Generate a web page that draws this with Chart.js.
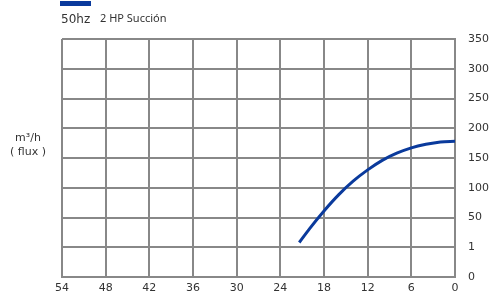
<!DOCTYPE html>
<html>
<head>
<meta charset="utf-8">
<script src="https://cdn.jsdelivr.net/npm/chart.js@4/dist/chart.umd.min.js"></script>
<style>
  html, body { margin: 0; padding: 0; background: #fff; }
  #wrap { width: 497px; height: 300px; position: relative; }
</style>
</head>
<body>
<div id="wrap"><canvas id="c" width="497" height="300"></canvas></div>
<script>
// Data
const seriesLabel = "50hz";
const chartTitle = "2 HP Succión";
const yTitleLines = ["m³/h", "( flux )"];
const headValues = [21.4, 20, 18, 16, 14, 12, 10, 8, 6, 4, 2, 0];
const flowValues = [8, 31, 61, 88, 111, 130, 146, 158, 167, 173, 177, 178];
const xTickValues = [54, 48, 42, 36, 30, 24, 18, 12, 6, 0];
const yTickLabels = ["0", "1", "50", "100", "150", "200", "250", "300", "350"];

const lineColor = "#0a3a9c";
const gridColor = "#888888";
const textColor = "#333333";

const points = headValues.map((h, i) => ({ x: h, y: flowValues[i] }));

const decor = {
  id: "decor",
  afterDraw(chart) {
    const ctx = chart.ctx;
    ctx.save();
    // legend swatch + label
    ctx.fillStyle = lineColor;
    ctx.fillRect(60, 1, 31, 5);
    ctx.fillStyle = textColor;
    ctx.textBaseline = "alphabetic";
    ctx.textAlign = "left";
    ctx.font = "12px 'DejaVu Sans'";
    ctx.fillText(seriesLabel, 61, 23);
    ctx.font = "11px 'Noto Sans'";
    ctx.fillText(chartTitle, 100, 22);
    // y title at left
    ctx.textAlign = "center";
    ctx.font = "11px 'DejaVu Sans'";
    ctx.fillText(yTitleLines[0], 28, 141);
    ctx.fillText(yTitleLines[1], 28, 155);
    ctx.restore();
  }
};

new Chart(document.getElementById("c"), {
  type: "line",
  data: {
    datasets: [{
      label: seriesLabel,
      data: points,
      borderColor: lineColor,
      backgroundColor: lineColor,
      borderWidth: 3,
      pointRadius: 0,
      fill: false,
      cubicInterpolationMode: "monotone"
    }]
  },
  options: {
    responsive: false,
    animation: false,
    devicePixelRatio: 1,
    layout: { padding: { left: 62, top: 39, right: 0, bottom: 0 } },
    plugins: { legend: { display: false }, title: { display: false }, tooltip: { enabled: false } },
    scales: {
      x: {
        type: "linear",
        reverse: true,
        min: xTickValues[xTickValues.length - 1],
        max: xTickValues[0],
        afterBuildTicks(scale) {
          scale.ticks = xTickValues.slice().reverse().map(v => ({ value: v }));
        },
        afterFit(scale) { scale.height = 23; },
        grid: { color: gridColor, lineWidth: 2, drawTicks: false },
        border: { color: gridColor, width: 2 },
        ticks: {
          color: textColor,
          font: { family: "DejaVu Sans", size: 11 },
          padding: 5,
          maxRotation: 0,
          autoSkip: false,
          callback: (v) => String(v)
        }
      },
      y: {
        type: "linear",
        position: "right",
        min: -50,
        max: 350,
        afterFit(scale) { scale.width = 42; },
        grid: { color: gridColor, lineWidth: 2, drawTicks: false },
        border: { color: gridColor, width: 2 },
        ticks: {
          stepSize: 50,
          color: textColor,
          font: { family: "DejaVu Sans", size: 11 },
          padding: 13,
          callback: (v, i) => yTickLabels[i]
        }
      }
    }
  },
  plugins: [decor]
});
</script>
</body>
</html>
